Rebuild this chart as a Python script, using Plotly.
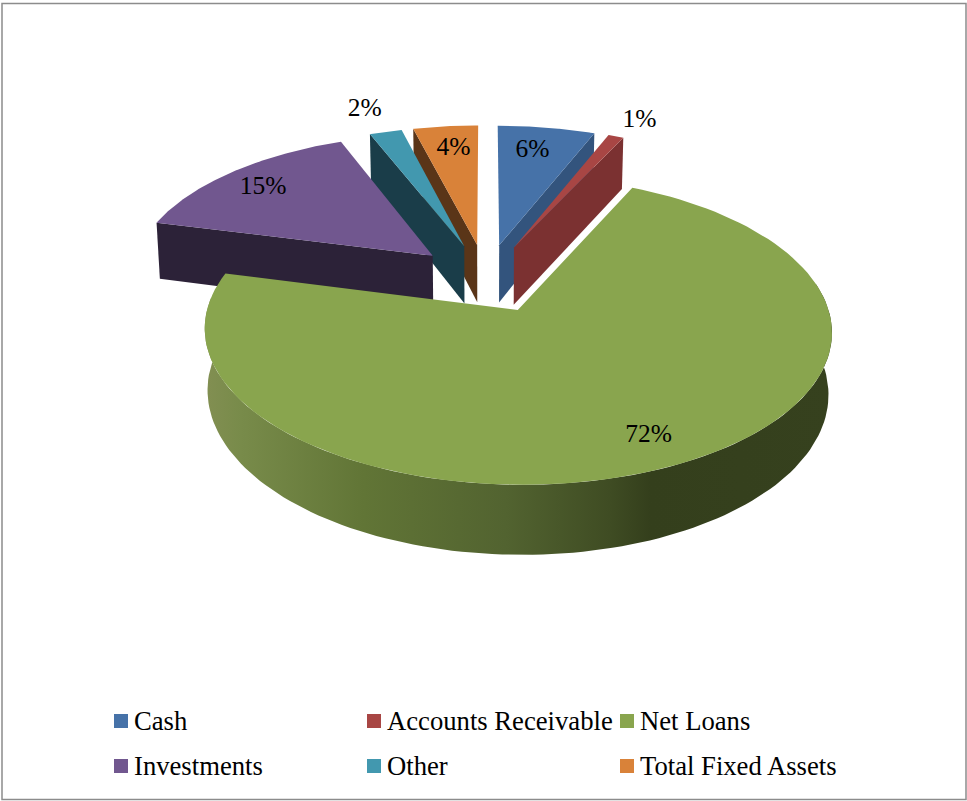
import numpy as np
import plotly.graph_objects as go

# Composition of assets, in percent of the total
categories = ["Cash", "Accounts Receivable", "Net Loans", "Investments", "Other", "Total Fixed Assets"]
shares = [6, 1, 72, 15, 2, 4]

top_colors = ["#4672a8", "#a84644", "#89a54e", "#71578f", "#4298af", "#d98239"]
cut_colors = ["#33547d", "#7b3131", "#3b4a20", "#2c2238", "#1a3d49", "#5a3518"]

# Offset of each percent label from the middle of its wedge's rim (pixels)
label_dx = [-14, 24, -24, 31, -21, 8]
label_dy = [23, -16, -30, 16, -22, 22]

# Page in pixels; projection of the pie's plane onto it
W, H = 967, 801
CX, CY = 486.0, 278.0
RX, RY = 302.0, 143.0
PERSP = 0.13
EXPLODE = 0.24
DEPTH = 59.0
BOTTOM_SHRINK = 0.99

# Key grid: three entries to a row
KEY_X0, KEY_DX = 121.0, 253.0
KEY_Y0, KEY_DY = 721.0, 45.0
KEY_TEXT_DX, KEY_TEXT_DY = 13.0, 2.0


def project(px, py, lowered=False):
    w = 1 + PERSP * py
    x = CX + RX * px / w
    y = CY - RY * py / w
    if lowered:
        x = CX + (x - CX) * BOTTOM_SHRINK
        y = y + DEPTH / w
    return x, y


def wedge_center(mid):
    return EXPLODE * np.sin(mid), EXPLODE * np.cos(mid)


def rim(a0, a1, mid, lowered=False, n=120):
    t = np.linspace(a0, a1, n)
    ox, oy = wedge_center(mid)
    return project(ox + np.sin(t), oy + np.cos(t), lowered)


def apex(mid, lowered=False):
    ox, oy = wedge_center(mid)
    return project(np.array([ox]), np.array([oy]), lowered)


edges = np.radians(np.concatenate([[0], np.cumsum(shares)]) * 3.6)
starts, ends = edges[:-1], edges[1:]
mids = (starts + ends) / 2

fig = go.Figure()


def polygon(xs, ys, color=None, gradient=None):
    kw = dict(fillgradient=gradient) if gradient else dict(fillcolor=color)
    fig.add_trace(go.Scatter(x=xs, y=ys, mode="lines", fill="toself", line=dict(width=0),
                             hoverinfo="skip", showlegend=False, **kw))


def cut_face(i, angle):
    mid = mids[i]
    ox, oy = wedge_center(mid)
    ex, ey = project(np.array([ox + np.sin(angle)]), np.array([oy + np.cos(angle)]))
    bx, by = project(np.array([ox + np.sin(angle)]), np.array([oy + np.cos(angle)]), True)
    ax, ay = apex(mid)
    cx, cy = apex(mid, True)
    polygon([ex[0], ax[0], cx[0], bx[0]], [ey[0], ay[0], cy[0], by[0]], cut_colors[i])


def top_face(i):
    mid = mids[i]
    rx, ry = rim(starts[i], ends[i], mid)
    ax, ay = apex(mid)
    polygon(np.r_[ax, rx], np.r_[ay, ry], top_colors[i])


# Wedges are painted from the back of the scene towards the viewer
cut_face(5, starts[5])
top_face(5)
cut_face(4, starts[4])
top_face(4)
cut_face(3, starts[3])
top_face(3)
cut_face(0, ends[0])
top_face(0)
cut_face(1, ends[1])
top_face(1)

# Outer wall of the large wedge, shaded from left to right
a0, a1 = np.radians(80), np.radians(275)
tx, ty = rim(a0, a1, mids[2])
bx, by = rim(a0, a1, mids[2], True)
polygon(np.r_[tx, bx[::-1]], np.r_[ty, by[::-1]], gradient=dict(
    type="horizontal", start=205, stop=832,
    colorscale=[[0, "#828f52"], [0.057, "#788b4a"], [0.254, "#617536"], [0.48, "#526330"],
                [0.646, "#3f4c23"], [0.71, "#343f1c"], [1, "#36411e"]]))
top_face(2)

# Percent labels
lab_x, lab_y = [], []
for i in range(len(shares)):
    rx, ry = rim(mids[i], mids[i], mids[i], n=1)
    lab_x.append(rx[0] + label_dx[i])
    lab_y.append(ry[0] + label_dy[i])
fig.add_trace(go.Scatter(x=lab_x, y=lab_y, mode="text", text=[f"{v}%" for v in shares],
                         textfont=dict(family="Liberation Serif", size=25.5, color="#000000"),
                         hoverinfo="skip", showlegend=False))

# Colour key under the pie
key_x = [KEY_X0 + KEY_DX * (i % 3) for i in range(len(categories))]
key_y = [KEY_Y0 + KEY_DY * (i // 3) for i in range(len(categories))]
fig.add_trace(go.Scatter(x=key_x, y=key_y, mode="markers",
                         marker=dict(symbol="square", size=14, color=top_colors),
                         hoverinfo="skip", showlegend=False))
fig.add_trace(go.Scatter(x=[v + KEY_TEXT_DX for v in key_x], y=[v + KEY_TEXT_DY for v in key_y],
                         mode="text", text=categories, textposition="middle right",
                         textfont=dict(family="Liberation Serif", size=26.67, color="#000000"),
                         hoverinfo="skip", showlegend=False))

fig.update_layout(
    width=W, height=H, autosize=False,
    margin=dict(l=0, r=0, t=0, b=0),
    paper_bgcolor="#ffffff", plot_bgcolor="#ffffff",
    showlegend=False,
    xaxis=dict(range=[0, W], visible=False, fixedrange=True),
    yaxis=dict(range=[H, 0], visible=False, fixedrange=True),
    shapes=[dict(type="rect", x0=2, y0=3.5, x1=966, y1=799.5,
                 line=dict(color="#8c8c8c", width=1.5))],
)

fig.write_html("out.html")
